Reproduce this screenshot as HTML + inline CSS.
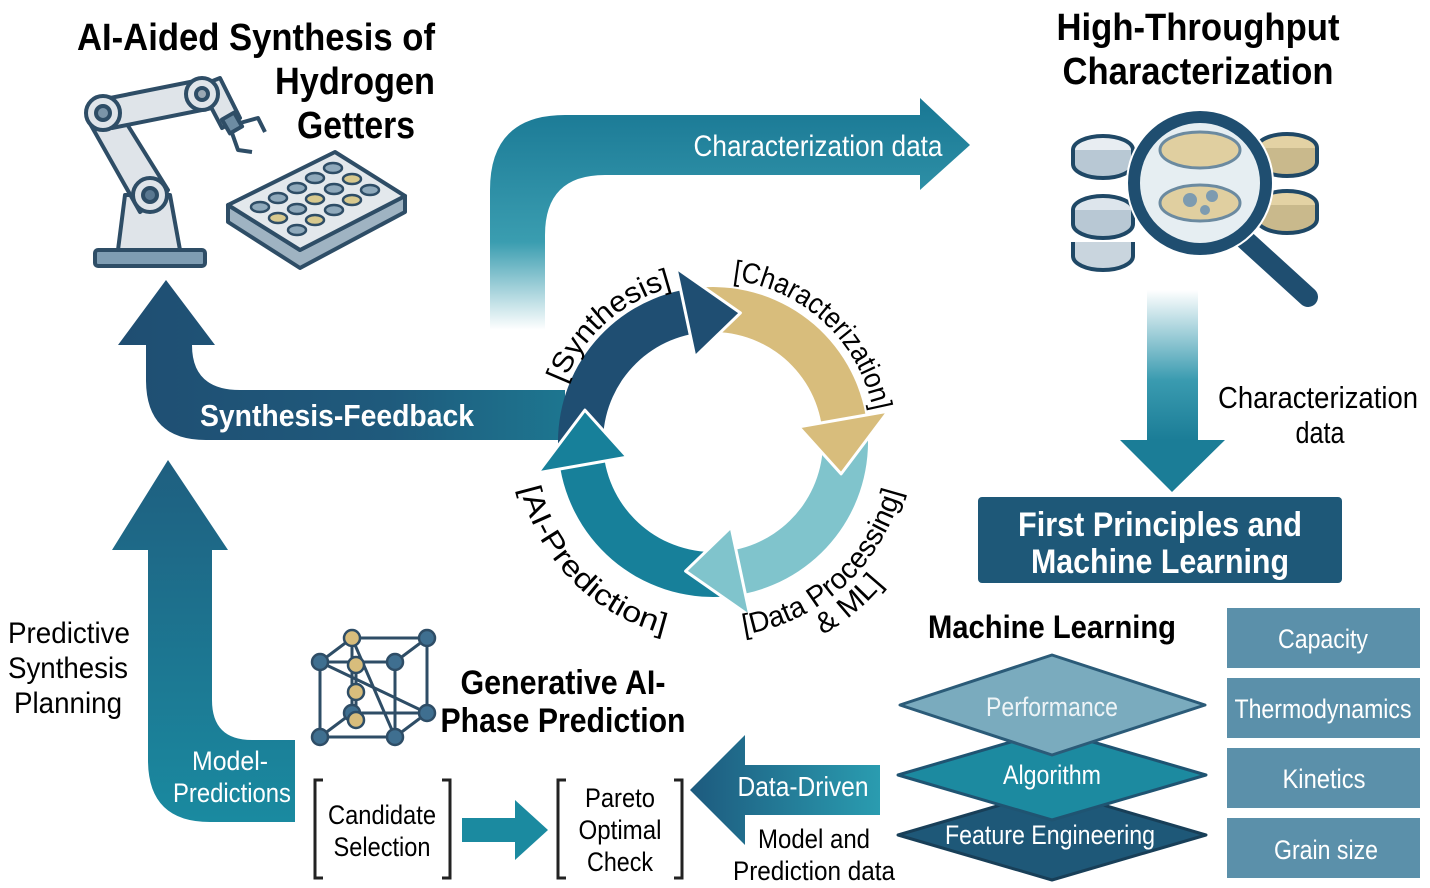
<!DOCTYPE html>
<html><head><meta charset="utf-8"><style>
html,body{margin:0;padding:0;background:#fff;}
svg{display:block;}
text{font-family:"Liberation Sans Narrow","Liberation Sans",sans-serif;}
.b{font-weight:bold;}
</style></head><body>
<svg width="1430" height="888" viewBox="0 0 1430 888" xmlns="http://www.w3.org/2000/svg">
<defs>
<linearGradient id="gTop" x1="0" y1="330" x2="0" y2="110" gradientUnits="userSpaceOnUse">
<stop offset="0" stop-color="#ffffff"/><stop offset="0.4" stop-color="#3a9db0"/><stop offset="1" stop-color="#1b7a96"/></linearGradient>
<linearGradient id="gDown" x1="0" y1="290" x2="0" y2="440" gradientUnits="userSpaceOnUse">
<stop offset="0" stop-color="#ffffff"/><stop offset="0.6" stop-color="#3a9bb0"/><stop offset="1" stop-color="#1b7d97"/></linearGradient>
<linearGradient id="gFb" x1="120" y1="0" x2="565" y2="0" gradientUnits="userSpaceOnUse">
<stop offset="0" stop-color="#1f4e72"/><stop offset="0.6" stop-color="#1f5a7c"/><stop offset="1" stop-color="#1d7690"/></linearGradient>
<linearGradient id="gMp" x1="0" y1="460" x2="0" y2="822" gradientUnits="userSpaceOnUse">
<stop offset="0" stop-color="#1f5f80"/><stop offset="1" stop-color="#1a8aa0"/></linearGradient>
<linearGradient id="gDd" x1="690" y1="0" x2="880" y2="0" gradientUnits="userSpaceOnUse">
<stop offset="0" stop-color="#1d5a7e"/><stop offset="1" stop-color="#2a9cb0"/></linearGradient>
</defs>

<!-- Titles -->
<text x="256" y="50" font-size="38" class="b" text-anchor="middle" textLength="358" lengthAdjust="spacingAndGlyphs">AI-Aided Synthesis of</text>
<text x="355" y="94" font-size="38" class="b" text-anchor="middle" textLength="160" lengthAdjust="spacingAndGlyphs">Hydrogen</text>
<text x="356" y="138" font-size="38" class="b" text-anchor="middle" textLength="118" lengthAdjust="spacingAndGlyphs">Getters</text>
<text x="1198" y="40" font-size="38" class="b" text-anchor="middle" textLength="283" lengthAdjust="spacingAndGlyphs">High-Throughput</text>
<text x="1198" y="84" font-size="38" class="b" text-anchor="middle" textLength="271" lengthAdjust="spacingAndGlyphs">Characterization</text>

<!-- Robot arm -->
<g stroke="#2e4d66" stroke-width="4" stroke-linejoin="round" fill="#dfe4e9">
<rect x="95" y="250" width="110" height="16" rx="3" fill="#7f9db3"/>
<path d="M118,250 L125,195 L170,195 L180,250 Z"/>
<path d="M88,120 L112,100 L168,190 L140,212 Z"/>
<path d="M100,100 L200,80 L212,108 L112,128 Z"/>
<path d="M200,86 L220,78 L240,118 L222,128 Z"/>
<circle cx="103" cy="113" r="17"/><circle cx="103" cy="113" r="7" fill="#7a94a8"/>
<circle cx="150" cy="195" r="17"/><circle cx="150" cy="195" r="7" fill="#5a7891"/>
<circle cx="202" cy="94" r="16"/><circle cx="202" cy="94" r="6" fill="#9aa8b4"/>
<rect x="225" y="115" width="14" height="16" fill="#6d8ca3" transform="rotate(-30 232 123)"/>
<path d="M240,123 L258,118 L265,132" fill="none"/>
<path d="M232,133 L238,150 L252,152" fill="none"/>
</g>
<!-- Well plate -->
<g stroke="#2e4d66" stroke-width="4" stroke-linejoin="round">
<path d="M228,205 L228,222 L300,268 L405,212 L405,196 L300,250 Z" fill="#9fb3c2"/>
<path d="M228,205 L335,152 L405,196 L300,250 Z" fill="#e3e8ec"/>
</g>
<g fill="#8fa9bb" stroke="#2e4d66" stroke-width="2.5">
<ellipse cx="333" cy="168" rx="9" ry="5"/><ellipse cx="315" cy="178" rx="9" ry="5"/><ellipse cx="297" cy="188" rx="9" ry="5"/><ellipse cx="278" cy="198" rx="9" ry="5"/><ellipse cx="260" cy="207" rx="9" ry="5"/>
<ellipse cx="352" cy="179" rx="9" ry="5" fill="#d8c98e"/><ellipse cx="334" cy="189" rx="9" ry="5"/><ellipse cx="315" cy="199" rx="9" ry="5" fill="#d8c98e"/><ellipse cx="297" cy="209" rx="9" ry="5"/><ellipse cx="278" cy="218" rx="9" ry="5" fill="#d8c98e"/>
<ellipse cx="370" cy="190" rx="9" ry="5"/><ellipse cx="352" cy="200" rx="9" ry="5" fill="#d8c98e"/><ellipse cx="334" cy="210" rx="9" ry="5"/><ellipse cx="315" cy="220" rx="9" ry="5" fill="#d8c98e"/><ellipse cx="297" cy="230" rx="9" ry="5"/>
</g>

<!-- Magnifier icon -->
<g stroke="#1f4866" stroke-width="4">
<ellipse cx="1103" cy="150" rx="30" ry="14" fill="#e8edf2"/><path d="M1073,150 v14 a30,14 0 0 0 60,0 v-14" fill="#b8c8d4"/>
<ellipse cx="1103" cy="210" rx="30" ry="14" fill="#dde5ec"/><path d="M1073,210 v14 a30,14 0 0 0 60,0 v-14" fill="#b8c8d4"/>
<path d="M1073,242 v14 a30,14 0 0 0 60,0 v-14" fill="#c9d5de"/>
<ellipse cx="1287" cy="148" rx="30" ry="14" fill="#e3d2a4"/><path d="M1257,148 v14 a30,14 0 0 0 60,0 v-14" fill="#c9b98c"/>
<ellipse cx="1287" cy="205" rx="30" ry="14" fill="#e3d2a4"/><path d="M1257,205 v14 a30,14 0 0 0 60,0 v-14" fill="#c9b98c"/>
</g>
<line x1="1240" y1="235" x2="1308" y2="297" stroke="#fff" stroke-width="30" stroke-linecap="round"/>
<line x1="1240" y1="235" x2="1308" y2="297" stroke="#1f4e70" stroke-width="20" stroke-linecap="round"/>
<circle cx="1200" cy="183" r="74" fill="#fff"/>
<circle cx="1200" cy="183" r="66" fill="#e6eef2" stroke="#1f4e70" stroke-width="12"/>
<ellipse cx="1200" cy="150" rx="40" ry="18" fill="#e0cfa0" stroke="#6b8aa0" stroke-width="3"/>
<ellipse cx="1200" cy="203" rx="40" ry="18" fill="#e0cfa0" stroke="#6b8aa0" stroke-width="3"/>
<circle cx="1190" cy="200" r="7" fill="#7d9bb0"/><circle cx="1212" cy="196" r="6" fill="#7d9bb0"/><circle cx="1205" cy="210" r="5" fill="#7d9bb0"/>

<!-- Top characterization data arrow -->
<path d="M490,330 L490,190 Q490,115 565,115 L920,115 L920,98 L970,145 L920,190 L920,175 L605,175 Q545,175 545,235 L545,330 Z" fill="url(#gTop)"/>
<text x="818" y="156" font-size="30" fill="#fff" text-anchor="middle" textLength="249" lengthAdjust="spacingAndGlyphs">Characterization data</text>

<!-- Down arrow -->
<path d="M1147,290 L1198,290 L1198,440 L1225,440 L1172,492 L1120,440 L1147,440 Z" fill="url(#gDown)"/>
<text x="1318" y="408" font-size="31" text-anchor="middle" textLength="200" lengthAdjust="spacingAndGlyphs">Characterization</text>
<text x="1320" y="443" font-size="31" text-anchor="middle" textLength="49" lengthAdjust="spacingAndGlyphs">data</text>

<!-- FP & ML box -->
<rect x="978" y="497" width="364" height="86" rx="4" fill="#1e5878"/>
<text x="1160" y="536" font-size="34" class="b" fill="#fff" text-anchor="middle" textLength="284" lengthAdjust="spacingAndGlyphs">First Principles and</text>
<text x="1160" y="573" font-size="34" class="b" fill="#fff" text-anchor="middle" textLength="258" lengthAdjust="spacingAndGlyphs">Machine Learning</text>

<!-- Synthesis feedback arrow -->
<path d="M565,390 L240,390 Q192,390 192,345 L215,345 L166,280 L118,345 L146,345 L146,380 Q146,440 206,440 L565,440 Z" fill="url(#gFb)"/>
<text x="337" y="426" font-size="31" class="b" fill="#fff" text-anchor="middle" textLength="274" lengthAdjust="spacingAndGlyphs">Synthesis-Feedback</text>

<!-- Model predictions arrow -->
<path d="M148,550 L112,550 L168,460 L228,550 L212,550 L212,700 Q212,740 252,740 L295,740 L295,822 L210,822 Q148,822 148,760 Z" fill="url(#gMp)"/>
<text x="230" y="770" font-size="27" fill="#fff" text-anchor="middle" textLength="76" lengthAdjust="spacingAndGlyphs">Model-</text>
<text x="232" y="802" font-size="27" fill="#fff" text-anchor="middle" textLength="118" lengthAdjust="spacingAndGlyphs">Predictions</text>
<text x="69" y="643" font-size="30" text-anchor="middle" textLength="122" lengthAdjust="spacingAndGlyphs">Predictive</text>
<text x="68" y="678" font-size="30" text-anchor="middle" textLength="120" lengthAdjust="spacingAndGlyphs">Synthesis</text>
<text x="68" y="713" font-size="30" text-anchor="middle" textLength="108" lengthAdjust="spacingAndGlyphs">Planning</text>

<!-- Cycle -->
<path d="M559.5,463.6 A155,155 0 0 1 680.8,290.4 L690.1,334.4 A110,110 0 0 0 604.1,457.3 Z" fill="#1f4e72"/>
<path d="M686.1,289.4 A155,155 0 0 1 865.6,415.1 L821.3,422.9 A110,110 0 0 0 693.9,333.7 Z" fill="#d8bd7c"/>
<path d="M866.5,420.4 A155,155 0 0 1 745.2,593.6 L735.9,549.6 A110,110 0 0 0 821.9,426.7 Z" fill="#80c4cc"/>
<path d="M739.9,594.6 A155,155 0 0 1 560.4,468.9 L604.7,461.1 A110,110 0 0 0 732.1,550.3 Z" fill="#17809a"/>
<g stroke="#fff" stroke-width="3" stroke-linejoin="round">
<path d="M676,267.9 L740.4,312.9 L694.9,356.9 Z" fill="#1f4e72"/>
<path d="M888.3,411.1 L841.1,473.9 L798.7,426.9 Z" fill="#d8bd7c"/>
<path d="M750,616.1 L685.6,571.1 L731.1,527.1 Z" fill="#80c4cc"/>
<path d="M537.7,472.9 L584.9,410.1 L627.3,457.1 Z" fill="#17809a"/>
</g>
<path id="pSyn" d="M562.6,387.3 A160,160 0 0 1 679.7,285.5" fill="none"/>
<path id="pChar" d="M718.7,279.1 A163,163 0 0 1 875.4,427.8" fill="none"/>
<path id="pData" d="M730,636.3 A195,195 0 0 0 908,442" fill="none"/>
<path id="pML" d="M806.8,643.2 A222,222 0 0 0 921.6,517.9" fill="none"/>
<path id="pAi" d="M518,476.4 A198,198 0 0 0 695.7,639.2" fill="none"/>
<text font-size="29"><textPath href="#pSyn" startOffset="4" textLength="150" lengthAdjust="spacingAndGlyphs">[Synthesis]</textPath></text>
<text font-size="29"><textPath href="#pChar" startOffset="14" textLength="205" lengthAdjust="spacingAndGlyphs">[Characterization]</textPath></text>
<text font-size="29"><textPath href="#pData" startOffset="14" textLength="225" lengthAdjust="spacingAndGlyphs">[Data Processing]</textPath></text>
<text font-size="29"><textPath href="#pML" startOffset="18" textLength="80" lengthAdjust="spacingAndGlyphs">&amp; ML]</textPath></text>
<text font-size="29"><textPath href="#pAi" startOffset="12" textLength="215" lengthAdjust="spacingAndGlyphs">[AI-Prediction]</textPath></text>

<!-- Crystal icon -->
<g stroke="#2e4d66" stroke-width="3" fill="none">
<rect x="320" y="662" width="75" height="75"/>
<rect x="352" y="638" width="75" height="75"/>
<line x1="320" y1="662" x2="352" y2="638"/><line x1="395" y1="662" x2="427" y2="638"/>
<line x1="320" y1="737" x2="352" y2="713"/><line x1="395" y1="737" x2="427" y2="713"/>
<line x1="320" y1="662" x2="427" y2="713"/><line x1="395" y1="737" x2="352" y2="638"/>
<line x1="356" y1="665" x2="356" y2="720"/>
</g>
<g stroke="#2e4d66" stroke-width="2.5" fill="#3f6f90">
<circle cx="320" cy="662" r="8"/><circle cx="395" cy="662" r="8"/><circle cx="320" cy="737" r="8"/><circle cx="395" cy="737" r="8"/>
<circle cx="352" cy="638" r="8" fill="#d8bd7c"/><circle cx="427" cy="638" r="8"/><circle cx="352" cy="713" r="8"/><circle cx="427" cy="713" r="8"/>
<circle cx="356" cy="665" r="8" fill="#d8bd7c"/><circle cx="356" cy="692" r="8" fill="#d8bd7c"/><circle cx="356" cy="720" r="8" fill="#d8bd7c"/>
</g>
<text x="563" y="694" font-size="34" class="b" text-anchor="middle" textLength="205" lengthAdjust="spacingAndGlyphs">Generative AI-</text>
<text x="563" y="732" font-size="34" class="b" text-anchor="middle" textLength="245" lengthAdjust="spacingAndGlyphs">Phase Prediction</text>

<!-- Brackets -->
<g stroke="#222" stroke-width="3" fill="none">
<path d="M323,780 L315,780 L315,878 L323,878"/><path d="M442,780 L450,780 L450,878 L442,878"/>
<path d="M566,780 L558,780 L558,878 L566,878"/><path d="M674,780 L682,780 L682,878 L674,878"/>
</g>
<text x="382" y="824" font-size="27" text-anchor="middle" textLength="108" lengthAdjust="spacingAndGlyphs">Candidate</text>
<text x="382" y="856" font-size="27" text-anchor="middle" textLength="97" lengthAdjust="spacingAndGlyphs">Selection</text>
<text x="620" y="807" font-size="27" text-anchor="middle" textLength="70" lengthAdjust="spacingAndGlyphs">Pareto</text>
<text x="620" y="839" font-size="27" text-anchor="middle" textLength="83" lengthAdjust="spacingAndGlyphs">Optimal</text>
<text x="620" y="871" font-size="27" text-anchor="middle" textLength="66" lengthAdjust="spacingAndGlyphs">Check</text>
<path d="M462,818 L515,818 L515,800 L548,830 L515,860 L515,842 L462,842 Z" fill="#1b8aa0"/>

<!-- Data-driven arrow -->
<path d="M880,765 L745,765 L745,735 L690,790 L745,845 L745,815 L880,815 Z" fill="url(#gDd)"/>
<text x="803" y="796" font-size="28" fill="#fff" text-anchor="middle" textLength="131" lengthAdjust="spacingAndGlyphs">Data-Driven</text>
<text x="814" y="848" font-size="27" text-anchor="middle" textLength="112" lengthAdjust="spacingAndGlyphs">Model and</text>
<text x="814" y="880" font-size="27" text-anchor="middle" textLength="162" lengthAdjust="spacingAndGlyphs">Prediction data</text>

<!-- Machine learning stack -->
<text x="1052" y="638" font-size="32" class="b" text-anchor="middle" textLength="248" lengthAdjust="spacingAndGlyphs">Machine Learning</text>
<g stroke-width="3" stroke-linejoin="round">
<path d="M898,835 L1052,790 L1206,835 L1052,880 Z" fill="#1e5878" stroke="#183f58"/>
<path d="M898,775 L1052,730 L1206,775 L1052,820 Z" fill="#1c8aa0" stroke="#1f5472"/>
<path d="M900,705 L1052,655 L1205,705 L1052,755 Z" fill="#7aabbe" stroke="#2b5b78"/>
</g>
<text x="1052" y="716" font-size="27" fill="#eef4f7" text-anchor="middle" textLength="132" lengthAdjust="spacingAndGlyphs">Performance</text>
<text x="1052" y="784" font-size="27" fill="#fff" text-anchor="middle" textLength="98" lengthAdjust="spacingAndGlyphs">Algorithm</text>
<text x="1050" y="844" font-size="27" fill="#fff" text-anchor="middle" textLength="210" lengthAdjust="spacingAndGlyphs">Feature Engineering</text>

<!-- Property boxes -->
<g fill="#5b90aa">
<rect x="1227" y="608" width="193" height="60"/><rect x="1227" y="678" width="193" height="60"/>
<rect x="1227" y="748" width="193" height="60"/><rect x="1227" y="818" width="193" height="60"/>
</g>
<text x="1323" y="648" font-size="27" fill="#fff" text-anchor="middle" textLength="90" lengthAdjust="spacingAndGlyphs">Capacity</text>
<text x="1323" y="718" font-size="27" fill="#fff" text-anchor="middle" textLength="177" lengthAdjust="spacingAndGlyphs">Thermodynamics</text>
<text x="1324" y="788" font-size="27" fill="#fff" text-anchor="middle" textLength="83" lengthAdjust="spacingAndGlyphs">Kinetics</text>
<text x="1326" y="859" font-size="27" fill="#fff" text-anchor="middle" textLength="104" lengthAdjust="spacingAndGlyphs">Grain size</text>
</svg>
</body></html>
